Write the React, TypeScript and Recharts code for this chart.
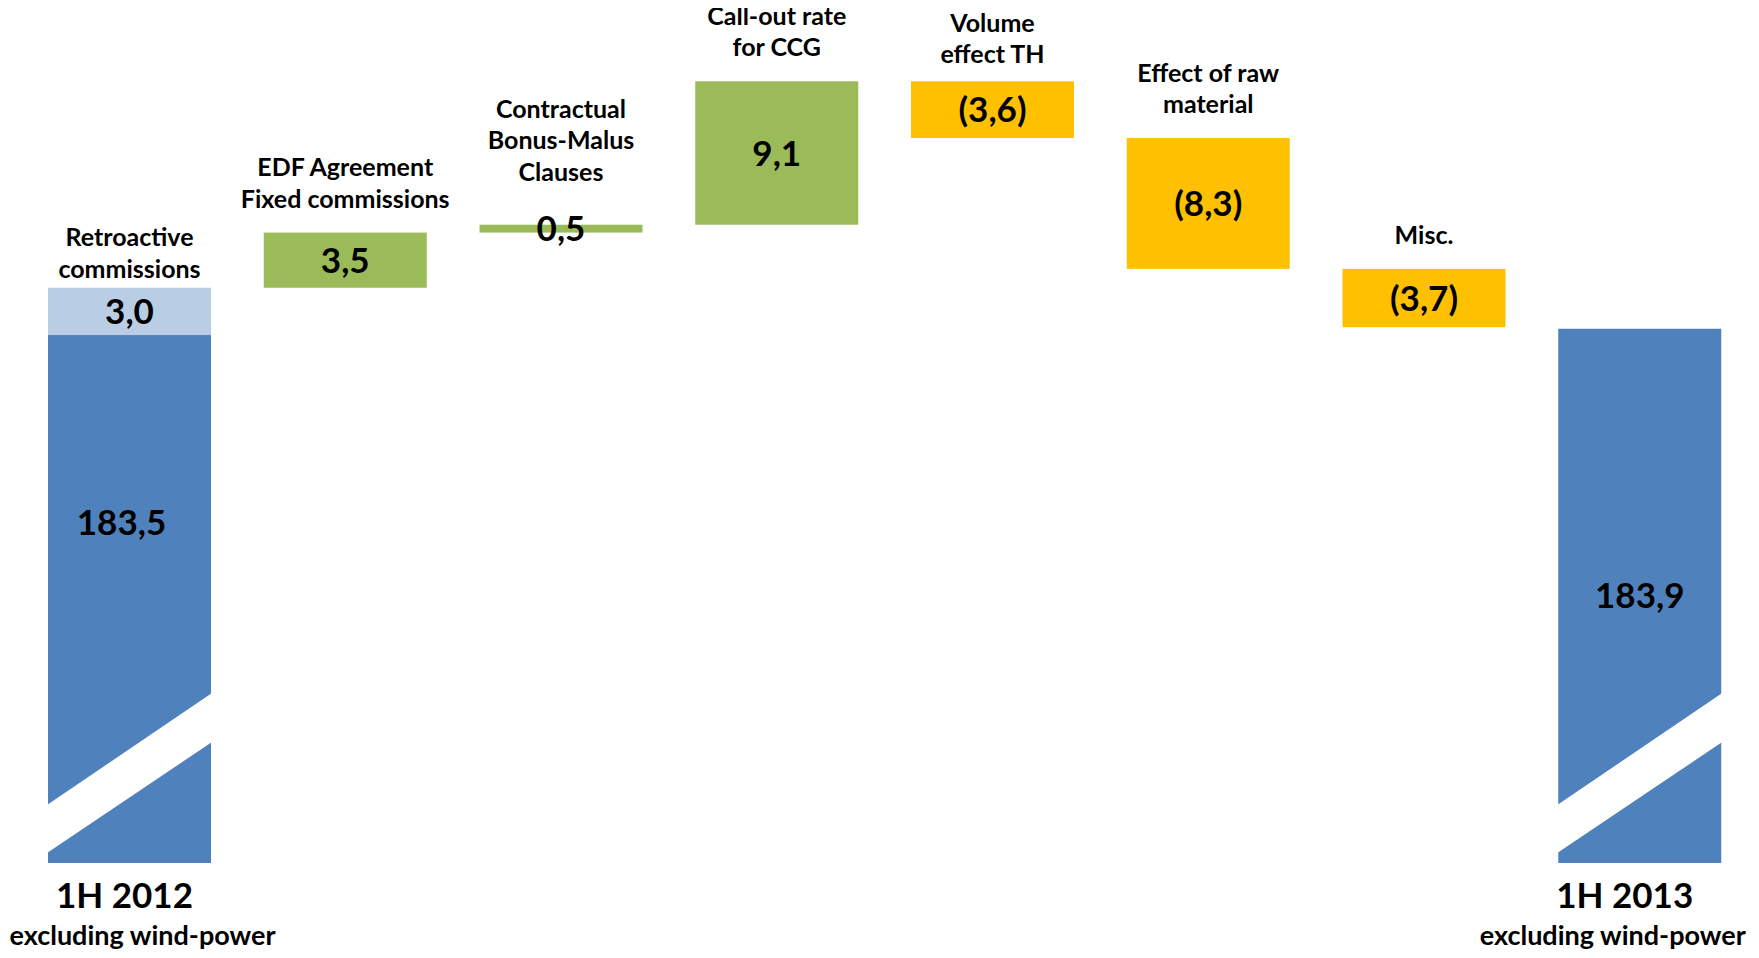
import React from 'react';
import { BarChart, Bar, XAxis, YAxis, LabelList } from 'recharts';

// ---- data -------------------------------------------------------------
const categories = [
  '1H 2012',
  'EDF Agreement\nFixed commissions',
  'Contractual\nBonus-Malus\nClauses',
  'Call-out rate\nfor CCG',
  'Volume\neffect TH',
  'Effect of raw\nmaterial',
  'Misc.',
  '1H 2013',
];
const totalSubtitle = 'excluding wind-power';
const openingTotal = 183.5;
const retroactiveCommissions = 3.0;
const retroactiveLabel = 'Retroactive\ncommissions';
const variations = [3.5, 0.5, 9.1, -3.6, -8.3, -3.7];
const closingTotal = 183.9;
const axisFloor = 150;
const axisCeiling = 200;

// ---- layout & style ---------------------------------------------------
const WIDTH = 1745;
const HEIGHT = 942;
const MARGIN = { top: 67, right: 5, bottom: 87, left: 14 };
const BAR_SIZE = 163;
const FONT = 'Lato, "Open Sans", "DejaVu Sans", sans-serif';
const COLORS = {
  total: '#4F81BD',
  retro: '#B9CDE5',
  up: '#9BBB59',
  down: '#FFC000',
};
const CAT_FONT = 25;
const LINE_H = 31.5;
const VALUE_FONT = 35;
const DEFAULT_GAP = 25;
const CATEGORY_GAP: Record<number, number> = { 2: 44, 4: 18 };
const RETRO_GAP = 10;
// horizontal nudges for the captions under the two totals
const TOTAL_CAPTION_DX: Record<number, { head: number; sub: number }> = {
  0: { head: -5, sub: 13 },
  7: { head: -15, sub: -27 },
};
// nudge for the opening total's value, placed above the axis break
const OPENING_VALUE_DY = -77;
const OPENING_VALUE_DX = -8;

type Kind = 'total' | 'up' | 'down';
interface Row {
  name: string;
  span: [number, number];
  retroSpan: [number, number] | null;
  value: number;
  kind: Kind;
}

const fmt = (v: number) => {
  const s = Math.abs(v).toFixed(1).replace('.', ',');
  return v < 0 ? `(${s})` : s;
};

// waterfall rows: each bar is a [low, high] range on the value axis
const rows: Row[] = [];
rows.push({
  name: categories[0],
  span: [axisFloor, openingTotal],
  retroSpan: [openingTotal, openingTotal + retroactiveCommissions],
  value: openingTotal,
  kind: 'total',
});
let level = openingTotal + retroactiveCommissions;
variations.forEach((v, i) => {
  const next = level + v;
  rows.push({
    name: categories[i + 1],
    span: [Math.min(level, next), Math.max(level, next)],
    retroSpan: null,
    value: v,
    kind: v >= 0 ? 'up' : 'down',
  });
  level = next;
});
rows.push({
  name: categories[7],
  span: [axisFloor, closingTotal],
  retroSpan: null,
  value: closingTotal,
  kind: 'total',
});

const textProps = {
  fontFamily: FONT,
  fontWeight: 700,
  fill: '#000',
  textAnchor: 'middle' as const,
};

const boxOf = (props: any) => {
  const vb = props.viewBox && props.viewBox.width !== undefined ? props.viewBox : props;
  const x = Number(vb.x);
  const y = Number(vb.y);
  const w = Number(vb.width);
  const h = Number(vb.height);
  return { x, w, top: Math.min(y, y + h), bottom: Math.max(y, y + h) };
};

// bar body; totals get a white diagonal cut to show the broken axis
const MainShape = (props: any) => {
  const { payload } = props;
  const { x, w, top, bottom } = boxOf(props);
  const fill = COLORS[(payload as Row).kind];
  if ((payload as Row).kind !== 'total') {
    return <rect x={x} y={top} width={w} height={bottom - top} fill={fill} />;
  }
  return (
    <g>
      <rect x={x} y={top} width={w} height={bottom - top} fill={fill} />
      <polygon
        points={`${x - 1},${bottom - 58} ${x + w + 1},${bottom - 170} ${x + w + 1},${bottom - 121} ${x - 1},${bottom - 10}`}
        fill="#fff"
      />
    </g>
  );
};

const RetroShape = (props: any) => {
  const row = props.payload as Row;
  if (!row || !row.retroSpan) return null;
  const { x, w, top, bottom } = boxOf(props);
  return <rect x={x} y={top} width={w} height={bottom - top} fill={COLORS.retro} />;
};

const renderMainLabel = (props: any) => {
  const index = Number(props.index);
  const row = rows[index];
  if (!row) return null;
  const { x, w, top, bottom } = boxOf(props);
  const cx = x + w / 2;
  let vx = cx;
  let vy = (top + bottom) / 2;
  if (index === 0) {
    vx += OPENING_VALUE_DX;
    vy += OPENING_VALUE_DY;
  }
  const parts: React.ReactNode[] = [];
  parts.push(
    <text key="v" x={vx} y={vy + VALUE_FONT * 0.36} fontSize={VALUE_FONT} {...textProps}>
      {fmt(row.value)}
    </text>
  );
  if (row.kind === 'total') {
    const dx = TOTAL_CAPTION_DX[index] ?? { head: 0, sub: 0 };
    parts.push(
      <text key="h" x={cx + dx.head} y={bottom + 45} fontSize={35} {...textProps}>
        {row.name}
      </text>
    );
    parts.push(
      <text key="s" x={cx + dx.sub} y={bottom + 82} fontSize={27} {...textProps}>
        {totalSubtitle}
      </text>
    );
  } else {
    const lines = row.name.split('\n');
    const gap = CATEGORY_GAP[index] ?? DEFAULT_GAP;
    lines.forEach((ln, k) => {
      parts.push(
        <text
          key={`c${k}`}
          x={cx}
          y={top - gap - (lines.length - 1 - k) * LINE_H}
          fontSize={CAT_FONT}
          {...textProps}
        >
          {ln}
        </text>
      );
    });
  }
  return <g key={`main-label-${index}`}>{parts}</g>;
};

const renderRetroLabel = (props: any) => {
  const index = Number(props.index);
  const row = rows[index];
  if (!row || !row.retroSpan) return null;
  const { x, w, top, bottom } = boxOf(props);
  const cx = x + w / 2;
  const lines = retroactiveLabel.split('\n');
  return (
    <g key={`retro-label-${index}`}>
      <text x={cx} y={(top + bottom) / 2 + VALUE_FONT * 0.36} fontSize={VALUE_FONT} {...textProps}>
        {fmt(retroactiveCommissions)}
      </text>
      {lines.map((ln, k) => (
        <text
          key={k}
          x={cx}
          y={top - RETRO_GAP - (lines.length - 1 - k) * LINE_H}
          fontSize={CAT_FONT}
          {...textProps}
        >
          {ln}
        </text>
      ))}
    </g>
  );
};

export default function App() {
  return (
    <div style={{ width: WIDTH, height: HEIGHT, background: '#fff' }}>
      <style>{'.recharts-surface { overflow: visible; }'}</style>
      <BarChart width={WIDTH} height={HEIGHT} data={rows} margin={MARGIN} barSize={BAR_SIZE}>
        <XAxis xAxisId="main" dataKey="name" type="category" hide />
        <XAxis xAxisId="retro" dataKey="name" type="category" hide />
        <YAxis type="number" domain={[axisFloor, axisCeiling]} hide />
        <Bar xAxisId="main" dataKey="span" isAnimationActive={false} shape={MainShape}>
          <LabelList dataKey="span" content={renderMainLabel} />
        </Bar>
        <Bar xAxisId="retro" dataKey="retroSpan" isAnimationActive={false} shape={RetroShape}>
          <LabelList dataKey="retroSpan" content={renderRetroLabel} />
        </Bar>
      </BarChart>
    </div>
  );
}
